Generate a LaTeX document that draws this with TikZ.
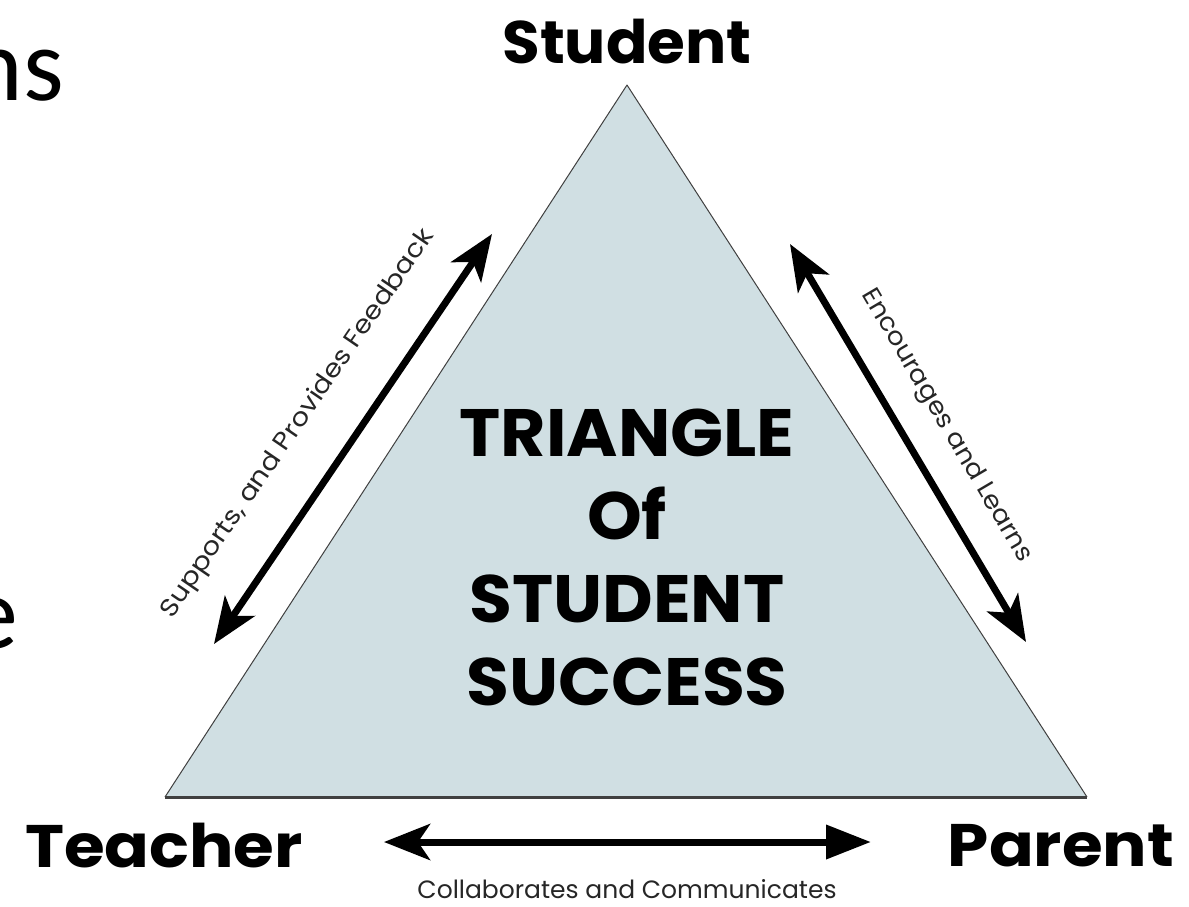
\documentclass[tikz,border=0pt]{standalone}
\usepackage{fontspec}
\setmainfont{Poppins}
\newfontfamily\slidefont{Carlito}
\usetikzlibrary{arrows.meta}
\definecolor{trifill}{HTML}{D0DFE3}
\definecolor{triedge}{HTML}{404040}
\tikzset{
  headtip/.tip={Stealth[length=46pt,width=36pt,inset=12pt]},
  flattip/.tip={Triangle[length=45pt,width=33pt]},
  rel/.style={line width=7pt, headtip-headtip},
  role/.style={font=\fontsize{60}{64}\selectfont\bfseries, inner sep=0pt},
  rellabel/.style={font=\fontsize{25}{28}\selectfont, inner sep=0pt, text=black!85},
  title/.style={font=\fontsize{67}{83}\selectfont\bfseries, inner sep=0pt, align=center},
  slide/.style={font=\slidefont\fontsize{104}{110}\selectfont, inner sep=0pt}
}
\begin{document}
\begin{tikzpicture}[x=1pt,y=-1pt]
\useasboundingbox (0,0) rectangle (1189,906);
% triangle
\coordinate (apex) at (627,85);
\coordinate (bl) at (165,797);
\coordinate (br) at (1087,797);
\fill[trifill] (apex) -- (bl) -- (br) -- cycle;
\draw[triedge, line width=1pt, line join=round] (bl) -- (apex) -- (br);
\draw[triedge, line width=3pt] (bl) -- (br);
% partial slide text
\node[slide, anchor=base east] (ns) at (64,100) {ns};
\node[slide, anchor=base east] (e) at (18,648) {e};
% roles
\node[role] (student) at (627,42) {\scalebox{1.02}[1]{Student}};
\node[role] (teacher) at (164,846) {\scalebox{1.1}[1]{Teacher}};
\node[role] (parent) at (1061,846) {\scalebox{1.1}[1]{Parent}};
% centre title
\node[title] (tri) at (627,557) {\scalebox{1.04}[1]{TRIANGLE}\\\scalebox{1.04}[1]{Of}\\\scalebox{1.04}[1]{STUDENT}\\\scalebox{1.04}[1]{SUCCESS}};
% arrows
\coordinate (l1) at (214,644);
\coordinate (l2) at (492,234);
\coordinate (r1) at (790,244);
\coordinate (r2) at (1026,642);
\coordinate (b1) at (384,842);
\coordinate (b2) at (871,842);
\draw[rel] (l1) -- (l2);
\draw[rel] (r1) -- (r2);
\draw[line width=7pt, headtip-flattip] (b1) -- (b2);
% labels
\node[rellabel, rotate=55.6] (lab1) at (298,424) {\scalebox{1.12}[1]{Supports, and Provides Feedback}};
\node[rellabel, rotate=-59.5] (lab2) at (946,426) {\scalebox{1.07}[1]{Encourages and Learns}};
\node[rellabel] (lab3) at (627,889) {Collaborates and Communicates};
\end{tikzpicture}
\end{document}
